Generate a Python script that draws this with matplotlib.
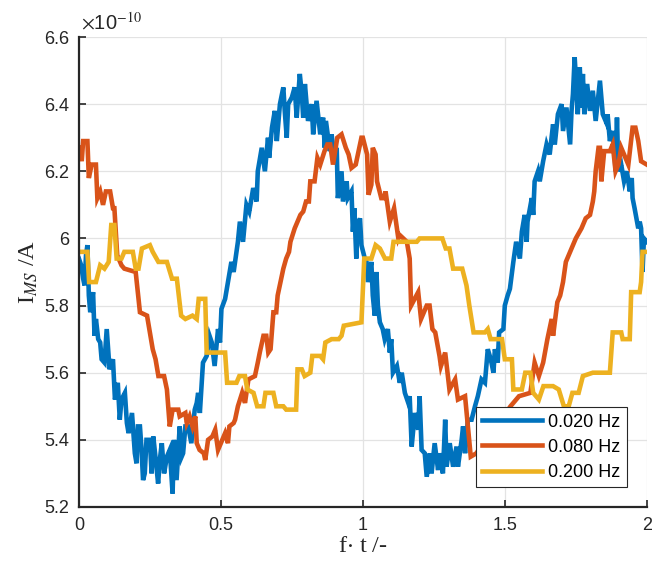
import numpy as np
import matplotlib
matplotlib.use('Agg')
import matplotlib.pyplot as plt
from matplotlib.ticker import FormatStrFormatter

# Datos (corriente en unidades de 1e-10 A, eje x = f*t)
x_020 = [0.000, 0.008, 0.015, 0.020, 0.025, 0.030, 0.035, 0.040, 0.050, 0.055,
         0.060, 0.068, 0.075, 0.080, 0.090, 0.098, 0.108, 0.120, 0.127, 0.137,
         0.144, 0.150, 0.162, 0.169, 0.175, 0.187, 0.197, 0.203, 0.208, 0.215,
         0.220, 0.226, 0.232, 0.238, 0.250, 0.256, 0.262, 0.272, 0.279, 0.285,
         0.292, 0.300, 0.310, 0.320, 0.330, 0.335, 0.344, 0.355, 0.362, 0.367,
         0.375, 0.385, 0.396, 0.408, 0.415, 0.420, 0.426, 0.437, 0.450, 0.460,
         0.468, 0.478, 0.490, 0.497, 0.502, 0.515, 0.525, 0.537, 0.545, 0.550,
         0.560, 0.567, 0.578, 0.590, 0.600, 0.614, 0.626, 0.630, 0.644, 0.655,
         0.666, 0.670, 0.680, 0.690, 0.697, 0.708, 0.720, 0.725, 0.732, 0.737,
         0.750, 0.760, 0.767, 0.778, 0.785, 0.790, 0.796, 0.807, 0.820, 0.825,
         0.837, 0.850, 0.860, 0.866, 0.870, 0.884, 0.890, 0.900, 0.908, 0.912,
         0.925, 0.930, 0.943, 0.947, 0.960, 0.965, 0.970, 0.977, 0.980, 0.990,
         0.995, 1.007, 1.013, 1.018, 1.030, 1.035, 1.042, 1.048, 1.053, 1.060,
         1.070, 1.077, 1.088, 1.095, 1.100, 1.106, 1.120, 1.130, 1.137, 1.148,
         1.160, 1.165, 1.172, 1.183, 1.195, 1.200, 1.207, 1.218, 1.225, 1.236,
         1.242, 1.253, 1.265, 1.270, 1.282, 1.290, 1.295, 1.306, 1.318, 1.330,
         1.335, 1.348, 1.353, 1.360, 1.370, 1.383, 1.395, 1.405, 1.418, 1.430,
         1.440, 1.447, 1.453, 1.460, 1.465, 1.475, 1.480, 1.495, 1.500, 1.510,
         1.518, 1.530, 1.540, 1.553, 1.560, 1.570, 1.577, 1.580, 1.595, 1.600,
         1.605, 1.617, 1.623, 1.635, 1.647, 1.658, 1.670, 1.676, 1.687, 1.700,
         1.705, 1.717, 1.730, 1.735, 1.740, 1.746, 1.753, 1.757, 1.764, 1.770,
         1.775, 1.780, 1.790, 1.800, 1.810, 1.820, 1.835, 1.845, 1.860, 1.862,
         1.870, 1.880, 1.887, 1.890, 1.895, 1.900, 1.910, 1.920, 1.930, 1.940,
         1.947, 1.950, 1.957, 1.970, 1.975, 1.980, 1.985, 1.990, 2.000]
i_020 = [5.94, 5.92, 5.88, 5.86, 5.95, 5.98, 5.83, 5.78, 5.84, 5.71,
         5.76, 5.70, 5.69, 5.64, 5.63, 5.73, 5.61, 5.64, 5.52, 5.57,
         5.46, 5.52, 5.54, 5.45, 5.42, 5.48, 5.36, 5.33, 5.44, 5.44,
         5.38, 5.28, 5.30, 5.40, 5.40, 5.30, 5.41, 5.33, 5.27, 5.34,
         5.39, 5.30, 5.35, 5.37, 5.24, 5.40, 5.28, 5.44, 5.35, 5.36,
         5.44, 5.44, 5.39, 5.49, 5.51, 5.54, 5.48, 5.63, 5.65, 5.71,
         5.69, 5.62, 5.73, 5.69, 5.79, 5.82, 5.87, 5.93, 5.90, 5.93,
         5.99, 6.05, 5.99, 6.10, 6.08, 6.15, 6.11, 6.20, 6.27, 6.20,
         6.30, 6.24, 6.33, 6.38, 6.29, 6.40, 6.45, 6.38, 6.30, 6.40,
         6.42, 6.45, 6.36, 6.49, 6.43, 6.36, 6.46, 6.35, 6.40, 6.31,
         6.41, 6.31, 6.36, 6.27, 6.35, 6.26, 6.31, 6.24, 6.27, 6.12,
         6.20, 6.11, 6.17, 6.12, 6.14, 6.02, 6.09, 5.94, 6.03, 6.06,
         5.98, 5.94, 5.93, 5.87, 5.93, 5.83, 5.77, 5.90, 5.80, 5.75,
         5.73, 5.70, 5.73, 5.66, 5.70, 5.60, 5.62, 5.57, 5.60, 5.54,
         5.51, 5.53, 5.38, 5.48, 5.43, 5.53, 5.37, 5.36, 5.29, 5.36,
         5.30, 5.39, 5.31, 5.36, 5.30, 5.46, 5.32, 5.39, 5.32, 5.38,
         5.32, 5.40, 5.44, 5.36, 5.46, 5.46, 5.50, 5.53, 5.58, 5.57,
         5.67, 5.65, 5.63, 5.60, 5.67, 5.63, 5.72, 5.73, 5.80, 5.83,
         5.85, 5.93, 5.99, 5.94, 6.02, 6.07, 5.99, 6.05, 6.12, 6.07,
         6.17, 6.20, 6.17, 6.23, 6.28, 6.25, 6.34, 6.28, 6.37, 6.40,
         6.32, 6.39, 6.28, 6.38, 6.43, 6.54, 6.44, 6.37, 6.51, 6.39,
         6.49, 6.37, 6.46, 6.38, 6.44, 6.35, 6.47, 6.37, 6.34, 6.37,
         6.29, 6.32, 6.25, 6.20, 6.36, 6.20, 6.22, 6.17, 6.20, 6.14,
         6.18, 6.12, 6.09, 6.03, 6.05, 6.03, 5.90, 6.00, 5.99]

x_080 = [0.000, 0.005, 0.010, 0.015, 0.030, 0.035, 0.045, 0.060, 0.065, 0.075,
         0.085, 0.095, 0.110, 0.120, 0.125, 0.135, 0.150, 0.160, 0.200, 0.215,
         0.240, 0.260, 0.270, 0.280, 0.300, 0.310, 0.320, 0.330, 0.350, 0.355,
         0.375, 0.380, 0.390, 0.400, 0.410, 0.415, 0.425, 0.440, 0.445, 0.455,
         0.470, 0.480, 0.490, 0.500, 0.515, 0.525, 0.530, 0.545, 0.550, 0.560,
         0.575, 0.585, 0.597, 0.620, 0.630, 0.637, 0.650, 0.660, 0.667, 0.675,
         0.685, 0.695, 0.700, 0.715, 0.720, 0.730, 0.740, 0.745, 0.760, 0.770,
         0.780, 0.790, 0.800, 0.810, 0.815, 0.830, 0.840, 0.850, 0.865, 0.875,
         0.885, 0.895, 0.910, 0.925, 0.940, 0.950, 0.960, 0.975, 0.995, 1.000,
         1.015, 1.020, 1.030, 1.035, 1.045, 1.050, 1.065, 1.075, 1.080, 1.095,
         1.110, 1.125, 1.130, 1.155, 1.165, 1.170, 1.195, 1.205, 1.225, 1.235,
         1.245, 1.255, 1.270, 1.275, 1.290, 1.305, 1.325, 1.335, 1.360, 1.370,
         1.380, 1.400, 1.430, 1.480, 1.520, 1.550, 1.590, 1.605, 1.620, 1.635,
         1.650, 1.665, 1.670, 1.685, 1.695, 1.705, 1.715, 1.725, 1.740, 1.750,
         1.770, 1.785, 1.800, 1.810, 1.815, 1.820, 1.830, 1.835, 1.840, 1.850,
         1.870, 1.880, 1.890, 1.900, 1.910, 1.930, 1.935, 1.950, 1.960, 1.970,
         1.980, 2.000]
i_080 = [6.27, 6.27, 6.23, 6.29, 6.29, 6.18, 6.22, 6.22, 6.12, 6.14,
         6.10, 6.14, 6.14, 6.09, 6.09, 5.95, 5.92, 5.91, 5.90, 5.78,
         5.77, 5.67, 5.64, 5.59, 5.59, 5.55, 5.44, 5.49, 5.49, 5.47,
         5.48, 5.45, 5.47, 5.44, 5.47, 5.39, 5.37, 5.36, 5.34, 5.40,
         5.41, 5.43, 5.37, 5.39, 5.42, 5.39, 5.44, 5.45, 5.46, 5.50,
         5.54, 5.51, 5.58, 5.59, 5.63, 5.66, 5.71, 5.71, 5.66, 5.67,
         5.78, 5.78, 5.83, 5.89, 5.91, 5.94, 5.96, 5.99, 6.03, 6.05,
         6.07, 6.08, 6.11, 6.11, 6.17, 6.17, 6.24, 6.22, 6.26, 6.28,
         6.28, 6.22, 6.30, 6.31, 6.27, 6.25, 6.21, 6.22, 6.30, 6.30,
         6.25, 6.13, 6.16, 6.27, 6.25, 6.17, 6.12, 6.12, 6.14, 6.05,
         6.09, 6.00, 6.01, 5.99, 5.94, 5.80, 5.84, 5.76, 5.80, 5.80,
         5.73, 5.72, 5.65, 5.62, 5.66, 5.55, 5.58, 5.52, 5.53, 5.44,
         5.35, 5.36, 5.40, 5.45, 5.50, 5.53, 5.54, 5.63, 5.59, 5.63,
         5.70, 5.76, 5.71, 5.81, 5.83, 5.87, 5.93, 5.95, 5.98, 6.00,
         6.03, 6.06, 6.07, 6.11, 6.14, 6.20, 6.27, 6.27, 6.17, 6.26,
         6.26, 6.28, 6.20, 6.22, 6.27, 6.23, 6.22, 6.33, 6.33, 6.29,
         6.23, 6.22]

x_200 = [0.000, 0.030, 0.036, 0.060, 0.075, 0.090, 0.105, 0.114, 0.125, 0.133,
         0.150, 0.160, 0.190, 0.200, 0.210, 0.222, 0.250, 0.260, 0.280, 0.310,
         0.328, 0.345, 0.360, 0.375, 0.400, 0.415, 0.422, 0.445, 0.450, 0.515,
         0.522, 0.555, 0.565, 0.585, 0.593, 0.615, 0.628, 0.650, 0.657, 0.685,
         0.695, 0.720, 0.730, 0.765, 0.770, 0.785, 0.795, 0.815, 0.822, 0.850,
         0.860, 0.868, 0.890, 0.915, 0.925, 0.933, 0.995, 1.005, 1.030, 1.045,
         1.060, 1.078, 1.100, 1.108, 1.190, 1.200, 1.280, 1.292, 1.305, 1.318,
         1.350, 1.365, 1.375, 1.390, 1.430, 1.440, 1.450, 1.490, 1.500, 1.525,
         1.530, 1.560, 1.572, 1.590, 1.600, 1.620, 1.636, 1.670, 1.690, 1.708,
         1.725, 1.738, 1.760, 1.775, 1.810, 1.870, 1.880, 1.910, 1.915, 1.940,
         1.945, 1.975, 1.980, 1.985, 2.000]
i_200 = [5.96, 5.96, 5.87, 5.87, 5.92, 5.91, 5.93, 6.04, 6.04, 5.94,
         5.94, 5.96, 5.96, 5.91, 5.91, 5.97, 5.98, 5.96, 5.93, 5.93,
         5.88, 5.88, 5.77, 5.76, 5.77, 5.76, 5.82, 5.82, 5.66, 5.66,
         5.57, 5.57, 5.59, 5.59, 5.55, 5.54, 5.50, 5.50, 5.54, 5.54,
         5.50, 5.50, 5.49, 5.49, 5.61, 5.61, 5.59, 5.60, 5.65, 5.65,
         5.64, 5.69, 5.70, 5.70, 5.71, 5.74, 5.75, 5.94, 5.94, 5.98,
         5.97, 5.94, 5.94, 5.99, 5.99, 6.00, 6.00, 5.97, 5.97, 5.91,
         5.91, 5.86, 5.80, 5.72, 5.72, 5.73, 5.70, 5.70, 5.64, 5.64,
         5.55, 5.55, 5.60, 5.60, 5.54, 5.52, 5.56, 5.56, 5.55, 5.50,
         5.50, 5.54, 5.54, 5.59, 5.60, 5.60, 5.72, 5.72, 5.70, 5.70,
         5.84, 5.84, 5.87, 5.96, 5.96]

labels = ['0.020 Hz', '0.080 Hz', '0.200 Hz']
colores = ['#0072BD', '#D95319', '#EDB120']

plt.rcParams['font.family'] = 'Liberation Sans'
plt.rcParams['mathtext.fontset'] = 'stix'

fig = plt.figure(figsize=(6.52, 5.65), dpi=100)
ax = fig.add_axes([0.121, 0.1027, 0.871, 0.8318])

for xs, ys, lab, c in zip([x_020, x_080, x_200], [i_020, i_080, i_200], labels, colores):
    ax.plot(xs, ys, color=c, lw=3.3, label=lab, solid_joinstyle='miter')

ax.set_xlim(0, 2)
ax.set_ylim(5.2, 6.6)
ax.set_xticks([0, 0.5, 1, 1.5, 2])
ax.set_yticks(np.arange(5.2, 6.61, 0.2))
ax.xaxis.set_major_formatter(FormatStrFormatter('%g'))
ax.yaxis.set_major_formatter(FormatStrFormatter('%g'))
ax.grid(True, color='#e3e3e3', lw=0.9)
ax.set_axisbelow(True)

for s in ['top', 'right']:
    ax.spines[s].set_visible(False)
for s in ['left', 'bottom']:
    ax.spines[s].set_color('#262626')
    ax.spines[s].set_linewidth(1.6)
ax.tick_params(direction='in', length=5, width=1.2, colors='#262626',
               labelsize=13, pad=7)

# factor de escala como en MATLAB
ax.text(0.003, 1.008, r'$\times$10$^{-10}$', transform=ax.transAxes,
        fontsize=14.5, color='#262626', va='bottom', ha='left')

ax.set_ylabel(r'I$_{MS}$ /A', family='Liberation Serif', fontsize=17.5,
              color='#262626', labelpad=3)
ax.set_xlabel(r'f$\cdot$ t /-', family='Liberation Serif', fontsize=17.5,
              color='#262626', labelpad=2)

leg = ax.legend(loc='lower left', bbox_to_anchor=(0.699, 0.042), borderaxespad=0,
                fontsize=13, handlelength=3.3, handletextpad=0.35,
                labelspacing=0.45, borderpad=0.35, fancybox=False, framealpha=1)
leg.get_frame().set_edgecolor('#262626')
leg.get_frame().set_linewidth(0.8)

plt.savefig('out.png', dpi=100)
